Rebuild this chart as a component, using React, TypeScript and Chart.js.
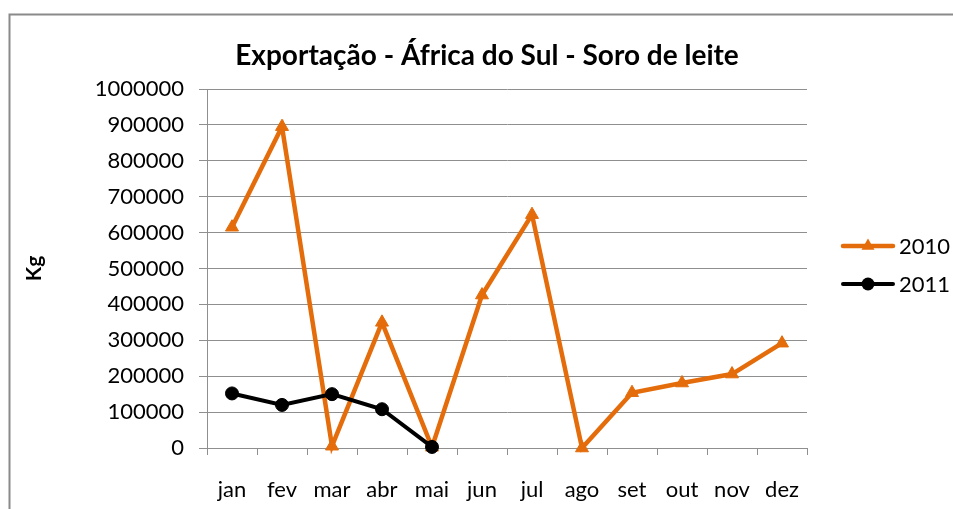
import React, { useEffect, useRef } from "react";
import { Chart, registerables } from "chart.js";

Chart.register(...registerables);

const months = ["jan", "fev", "mar", "abr", "mai", "jun", "jul", "ago", "set", "out", "nov", "dez"];
const values2010 = [615000, 895000, 5000, 350000, 2000, 426000, 650000, 0, 154000, 181000, 206000, 292000];
const values2011 = [152000, 120000, 150000, 108000, 3000, null, null, null, null, null, null, null];
const seriesNames = ["2010", "2011"];
const chartTitle = "Exportação - África do Sul - Soro de leite";
const yTitle = "Kg";

const ORANGE = "#E46C0A";
const BLACK = "#000000";
const GRID = "#8f8f8f";
const FONT = "Lato";

const framePlugin = {
  id: "frame",
  beforeDraw(chart: any) {
    const ctx = chart.ctx;
    ctx.save();
    ctx.fillStyle = "#ffffff";
    ctx.fillRect(0, 0, chart.width, chart.height);
    ctx.strokeStyle = "#8a8a8a";
    ctx.lineWidth = 2;
    ctx.strokeRect(9.5, 14.5, 2000, 2000);
    ctx.restore();
  },
};

const legendPlugin = {
  id: "customLegend",
  afterDraw(chart: any) {
    const ctx = chart.ctx;
    ctx.save();
    chart.data.datasets.forEach((ds: any, i: number) => {
      const y = 246 + i * 38;
      ctx.strokeStyle = ds.borderColor;
      ctx.lineWidth = ds.borderWidth;
      ctx.lineCap = "round";
      ctx.beginPath();
      ctx.moveTo(843, y);
      ctx.lineTo(893, y);
      ctx.stroke();
      ctx.fillStyle = ds.borderColor;
      ctx.beginPath();
      if (ds.pointStyle === "triangle") {
        const r = 7.5;
        ctx.moveTo(868, y - r);
        ctx.lineTo(868 + r * 0.866, y + r * 0.5);
        ctx.lineTo(868 - r * 0.866, y + r * 0.5);
        ctx.closePath();
      } else {
        ctx.arc(868, y, 6.5, 0, Math.PI * 2);
      }
      ctx.fill();
      ctx.fillStyle = "#000";
      ctx.font = `22px ${FONT}`;
      ctx.textBaseline = "middle";
      ctx.textAlign = "left";
      ctx.fillText(ds.label, 899, y + 1);
    });
    ctx.restore();
  },
};

export default function App() {
  const ref = useRef<HTMLCanvasElement | null>(null);

  useEffect(() => {
    if (!ref.current) return;
    const chart = new Chart(ref.current, {
      type: "line",
      data: {
        labels: months,
        datasets: [
          {
            label: seriesNames[0],
            data: values2010,
            borderColor: ORANGE,
            backgroundColor: ORANGE,
            borderWidth: 4.5,
            pointStyle: "triangle",
            pointRadius: 7.5,
            pointBorderWidth: 1,
            pointBackgroundColor: ORANGE,
            pointBorderColor: ORANGE,
            tension: 0,
            clip: false,
            order: 1,
          },
          {
            label: seriesNames[1],
            data: values2011,
            borderColor: BLACK,
            backgroundColor: BLACK,
            borderWidth: 4,
            pointStyle: "circle",
            pointRadius: 6.5,
            pointBorderWidth: 1,
            pointBackgroundColor: BLACK,
            pointBorderColor: BLACK,
            tension: 0,
            clip: false,
            order: 0,
          },
        ] as any,
      },
      options: {
        animation: false,
        responsive: false,
        maintainAspectRatio: false,
        layout: { padding: { left: 21, right: 0, top: 0, bottom: 0 } },
        plugins: {
          legend: { display: false },
          tooltip: { enabled: false },
          title: {
            display: true,
            text: chartTitle,
            color: "#000",
            font: { family: FONT, size: 28, weight: "bold" },
            padding: { top: 39, bottom: 16.4 },
          },
        },
        scales: {
          x: {
            offset: true,
            grid: {
              offset: true,
              drawOnChartArea: false,
              drawTicks: true,
              tickLength: 7,
              color: GRID,
            },
            border: { display: true, color: GRID, width: 1 },
            ticks: {
              color: "#000",
              font: { family: FONT, size: 22 },
              padding: 22,
              maxRotation: 0,
              autoSkip: false,
            },
            afterFit: (scale: any) => {
              scale.height = 61;
            },
          },
          y: {
            min: 0,
            max: 1000000,
            ticks: {
              stepSize: 100000,
              color: "#000",
              font: { family: FONT, size: 22 },
              padding: 15,
              callback: (v: any) => String(v),
            },
            grid: {
              color: GRID,
              tickLength: 8,
              drawTicks: true,
            },
            border: { display: true, color: GRID, width: 1 },
            title: {
              display: true,
              text: yTitle,
              color: "#000",
              font: { family: FONT, size: 21, weight: "bold" },
              padding: { top: 1, bottom: 0 },
            },
            afterFit: (scale: any) => {
              scale.width = 186;
            },
          },
          legendSpace: {
            type: "linear",
            position: "right",
            display: true,
            grid: { display: false, drawOnChartArea: false },
            border: { display: false },
            ticks: { display: false },
            afterFit: (scale: any) => {
              scale.width = 146;
            },
          },
        } as any,
      },
      plugins: [framePlugin, legendPlugin],
    });
    return () => chart.destroy();
  }, []);

  return (
    <div style={{ position: "absolute", left: 0, top: 0, width: 953, height: 509, overflow: "hidden" }}>
      <canvas ref={ref} width={953} height={509} style={{ display: "block" }} />
    </div>
  );
}
